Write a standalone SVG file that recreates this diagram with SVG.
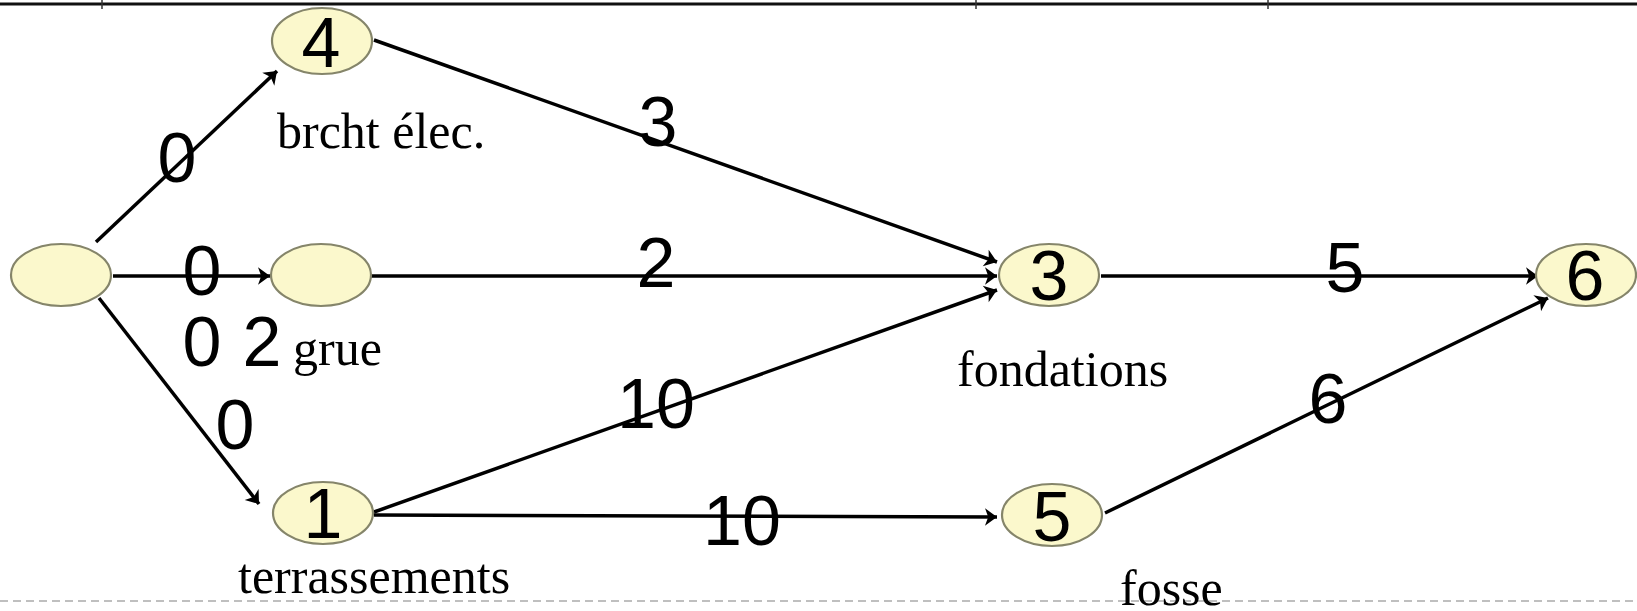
<svg xmlns="http://www.w3.org/2000/svg" width="1637" height="611" viewBox="0 0 1637 611">
<style>
.node{fill:#fbf8cc;stroke:#85856a;stroke-width:2.2}
.edge{stroke:#000;stroke-width:3.5;fill:none;marker-end:url(#arr)}
.num{font-family:"Liberation Sans",Arial,sans-serif;font-size:70px;fill:#000;text-anchor:middle}
.lbl{font-family:"Liberation Serif","Times New Roman",serif;font-size:50px;fill:#000}
</style>
<defs>
<marker id="arr" viewBox="0 0 10 10" refX="10" refY="5" markerWidth="8" markerHeight="8" markerUnits="userSpaceOnUse" orient="auto" overflow="visible">
<path d="M-15,-6 L0,5 L-15,16 L-11,5 Z" transform="translate(10,0)" fill="#000"/>
</marker>
</defs>
<rect width="1637" height="611" fill="#fff"/>
<g id="frame">
<line x1="0" y1="4" x2="1637" y2="4" stroke="#111" stroke-width="3"/>
<line x1="102" y1="0" x2="102" y2="9" stroke="#333" stroke-width="1.5"/>
<line x1="976" y1="0" x2="976" y2="9" stroke="#333" stroke-width="1.5"/>
<line x1="1268" y1="0" x2="1268" y2="9" stroke="#333" stroke-width="1.5"/>
<line x1="0" y1="601" x2="1637" y2="601" stroke="#aaa" stroke-width="1.5" stroke-dasharray="8,5"/>
</g>
<g id="connectors">
<line class="edge" x1="96" y1="242" x2="277" y2="71"/>
<line class="edge" x1="113" y1="276" x2="270" y2="276"/>
<line class="edge" x1="99" y1="298" x2="259" y2="504"/>
<line class="edge" x1="374" y1="40" x2="997" y2="262"/>
<line class="edge" x1="371" y1="276" x2="997" y2="276"/>
<line class="edge" x1="374" y1="512" x2="997" y2="290"/>
<line class="edge" x1="374" y1="515" x2="997" y2="517"/>
<line class="edge" x1="1101" y1="276" x2="1538" y2="276"/>
<line class="edge" x1="1105" y1="513" x2="1548" y2="298"/>
</g>
<g id="edge-labels">
<text class="num" x="177" y="182">0</text>
<text class="num" x="202" y="295">0</text>
<text class="num" x="202" y="366">0</text>
<text class="num" x="262" y="366">2</text>
<text class="num" x="235" y="449">0</text>
<text class="num" x="658" y="146">3</text>
<text class="num" x="656" y="287">2</text>
<text class="num" x="656" y="428">10</text>
<text class="num" x="742" y="545">10</text>
<text class="num" x="1345" y="292">5</text>
<text class="num" x="1328" y="423">6</text>
</g>
<g id="node-start"><ellipse class="node" cx="61" cy="275" rx="50" ry="31"/></g>
<g id="node-grue"><ellipse class="node" cx="321" cy="275" rx="50" ry="31"/><text class="lbl" x="293" y="365">grue</text></g>
<g id="node-4"><ellipse class="node" cx="322" cy="41" rx="50" ry="33"/><text class="num" x="321" y="67">4</text><text class="lbl" x="277" y="148">brcht élec.</text></g>
<g id="node-3"><ellipse class="node" cx="1049" cy="275" rx="50" ry="31"/><text class="num" x="1049" y="300">3</text><text class="lbl" x="957" y="386">fondations</text></g>
<g id="node-6"><ellipse class="node" cx="1586" cy="275" rx="50" ry="31"/><text class="num" x="1585" y="300">6</text></g>
<g id="node-1"><ellipse class="node" cx="323" cy="513" rx="50" ry="31"/><text class="num" x="323" y="538">1</text><text class="lbl" x="238" y="593">terrassements</text></g>
<g id="node-5"><ellipse class="node" cx="1052" cy="515" rx="50" ry="31"/><text class="num" x="1052" y="541">5</text><text class="lbl" x="1120" y="605">fosse</text></g>
</svg>
